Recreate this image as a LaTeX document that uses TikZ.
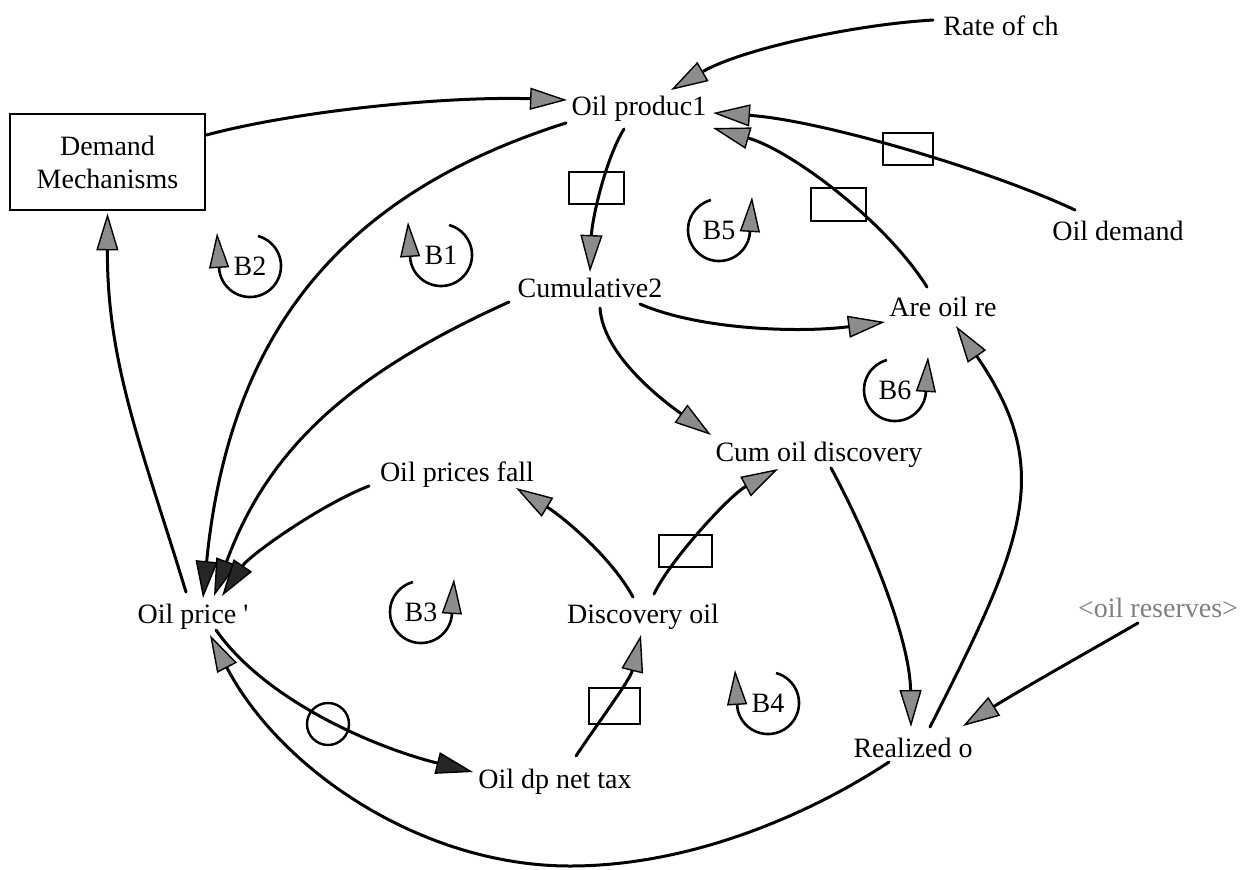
\documentclass[tikz,border=0pt]{standalone}
\usepackage{fontspec}
\setmainfont{Liberation Serif}
\usetikzlibrary{arrows.meta}
\newcommand\loopleft[4]{%
  \node[lbl] (#1) at (#2,#3) {#4};
  \draw[loopline] plot[domain=-75:172,samples=60] ({#2+31*cos(\x)},{#3+31*sin(\x)}) -- ({#2-33},{#3-33});
}
\newcommand\loopright[4]{%
  \node[lbl] (#1) at (#2,#3) {#4};
  \draw[loopline] plot[domain=105:352,samples=60] ({#2+31*cos(-\x)},{#3+31*sin(-\x)}) -- ({#2+33},{#3-33});
}
\begin{document}
\begin{tikzpicture}[x=1pt,y=-1pt,
  lbl/.style={inner sep=0pt,text height=18pt,text depth=0pt,font=\fontsize{28}{33}\selectfont},
  dembox/.style={draw,line width=2.8pt,minimum width=195pt,minimum height=96pt,align=center,inner sep=0pt,font=\fontsize{28}{33}\selectfont},
  valve/.style={draw,line width=2.4pt,inner sep=0pt,fill=none},
  link/.style={line width=3pt,line cap=round,-{Triangle[length=37pt,width=22pt,fill=black!45,line width=1.4pt]}},
  dark/.style={-{Triangle[length=37pt,width=22pt,fill=black!85,line width=1.4pt]}},
  loopline/.style={line width=2.6pt,-{Triangle[length=35pt,width=20pt,fill=black!45,line width=1.4pt]}}
]
\useasboundingbox (0,0) rectangle (1256,870);

% variables
\node[lbl] (rate) at (1001,26) {Rate of ch};
\node[lbl] (prod) at (639,106) {Oil produc1};
\node[dembox] (dem) at (107.5,162) {Demand\\Mechanisms};
\node[lbl] (odem) at (1118,231) {Oil demand};
\node[lbl] (cum2) at (590,288) {Cumulative2};
\node[lbl] (areoil) at (943,307) {Are oil re};
\node[lbl] (cumdisc) at (819,452) {Cum oil discovery};
\node[lbl] (fall) at (457,472) {Oil prices fall};
\node[lbl] (price) at (193,614) {Oil price \textquotesingle};
\node[lbl] (disc) at (643,614) {Discovery oil};
\node[lbl,text=black!50] (res) at (1158,608) {<oil reserves>};
\node[lbl] (tax) at (555,779) {Oil dp net tax};
\node[lbl] (real) at (913,748) {Realized o};

% valves (delay marks)
\node[valve,minimum width=55pt,minimum height=32pt] (v1) at (596.5,188) {};
\node[valve,minimum width=50pt,minimum height=32pt] (v2) at (908,149) {};
\node[valve,minimum width=55pt,minimum height=33pt] (v3) at (838.5,204.5) {};
\node[valve,minimum width=53pt,minimum height=32pt] (v4) at (685.5,551) {};
\node[valve,minimum width=51pt,minimum height=36pt] (v5) at (614.5,706) {};
\node[valve,circle,minimum size=42pt] (v6) at (328,724) {};

\coordinate (bottom) at (570,866);

% connectors
\draw[link] ([shift={(-68,-6)}]rate.center) .. controls (850,25) and (740,50) .. ([shift={(32,-16)}]prod.center);
\draw[link] ([shift={(0,-27)}]dem.east) .. controls (300,110) and (450,96) .. ([shift={(-72,-6)}]prod.center);
\draw[link,dark] ([shift={(-73,17)}]prod.center) .. controls (328,198) and (228,347) .. ([shift={(10,-16)}]price.center);
\draw[link] ([shift={(-15,23)}]prod.center) .. controls (605,160) and (592,220) .. ([shift={(0,-16)}]cum2.center);
\draw[link] ([shift={(-43,-21)}]odem.center) .. controls (990,170) and (820,120) .. ([shift={(74,7)}]prod.center);
\draw[link] ([shift={(-16,-20)}]areoil.center) .. controls (885,220) and (790,150) .. ([shift={(74,22)}]prod.center);
\draw[link,dark] ([shift={(-81,14)}]cum2.center) .. controls (354,372) and (269,446) .. ([shift={(21,-18)}]price.center);
\draw[link,dark] ([shift={(-88,14)}]fall.center) .. controls (320,505) and (250,555) .. ([shift={(29,-18)}]price.center);
\draw[link] ([shift={(-10,-17)}]disc.center) .. controls (610,555) and (560,515) .. ([shift={(59,16)}]fall.center);
\draw[link] ([shift={(50,16)}]cum2.center) .. controls (700,330) and (800,333) .. ([shift={(-58,15)}]areoil.center);
\draw[link] ([shift={(10,20)}]cum2.center) .. controls (603,355) and (662,400) .. ([shift={(-108,-17)}]cumdisc.center);
\draw[link] ([shift={(11,-20)}]disc.center) .. controls (670,560) and (730,495) .. ([shift={(-41,17)}]cumdisc.center);
\draw[link] ([shift={(12,16)}]cumdisc.center) .. controls (870,540) and (910,640) .. ([shift={(-2,-21)}]real.center);
\draw[link] ([shift={(17,-21)}]real.center) .. controls (1025,540) and (1055,470) .. ([shift={(13,19)}]areoil.center);
\draw[link] ([shift={(-20,15)}]res.center) .. controls (1100,645) and (1020,690) .. ([shift={(50,-22)}]real.center);
\draw[link] ([shift={(-24,14)}]real.center) .. controls (821,807) and (700,866) .. (bottom) .. controls (420,866) and (279,768) .. ([shift={(17,21)}]price.center);
\draw[link,dark] ([shift={(23,16)}]price.center) .. controls (265,700) and (373,747) .. ([shift={(-82,-7)}]tax.center);
\draw[link] ([shift={(21,-23)}]tax.center) .. controls (600,720) and (630,680) .. ([shift={(-2,21)}]disc.center);
\draw[link] ([shift={(-7,-22)}]price.center) .. controls (142,448) and (107,364) .. ([yshift=-2pt]dem.south);

% loop markers
\loopleft{b2}{250}{266}{B2}
\loopleft{b1}{441}{255}{B1}
\loopleft{b4}{768}{703}{B4}
\loopright{b5}{719}{230}{B5}
\loopright{b6}{895}{390}{B6}
\loopright{b3}{421}{612}{B3}
\end{tikzpicture}
\end{document}
